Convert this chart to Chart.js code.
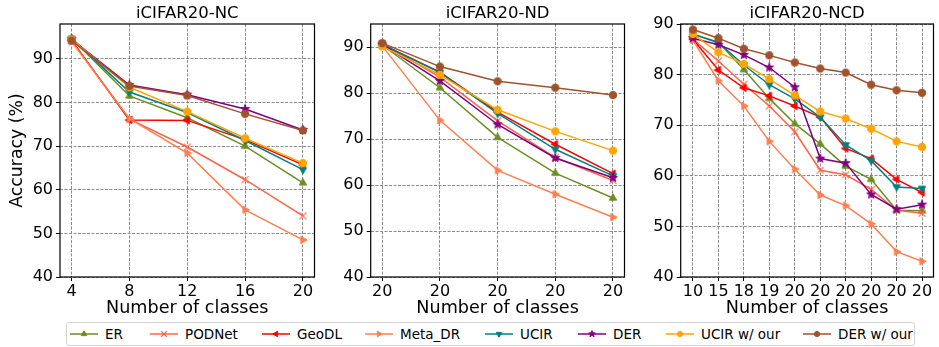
<!DOCTYPE html>
<html><head><meta charset="utf-8">
<script src="https://cdn.jsdelivr.net/npm/chart.js@4.4.0/dist/chart.umd.min.js"></script>
<style>
html,body{margin:0;padding:0;background:#fff}
body{width:939px;height:347px;overflow:hidden;position:relative;font-family:"DejaVu Sans",sans-serif}
canvas{position:absolute;top:0}
#legendBox{position:absolute;left:66px;top:322px;width:849px;height:24px;border:1px solid #d4d4d4;border-radius:3px;box-sizing:border-box}
.lt{position:absolute;font-size:13.5px;line-height:16px;top:326px;color:#000;white-space:nowrap}
</style></head>
<body>
<canvas id="c1" width="320" height="320" style="left:0px"></canvas>
<canvas id="c2" width="310" height="320" style="left:320px"></canvas>
<canvas id="c3" width="309" height="320" style="left:630px"></canvas>
<div id="legendBox"></div>
<div id="legend"></div>
<script>
// ---------- data ----------
const seriesNames  = ['ER','PODNet','GeoDL','Meta_DR','UCIR','DER','UCIR w/ our','DER w/ our'];
const seriesColors = ['#6b8e23','#ff6347','#ff0000','#ff7f50','#008080','#800080','#ffa500','#a0522d'];
const seriesMarkers= ['up','x','left','right','down','star','circle','circle'];

// iCIFAR20-NC
const ncTicks = [4, 8, 12, 16, 20];
const nc_ER      = [94.7, 81.5, 76.5, 70.0, 61.6];
const nc_PODNet  = [94.2, 76.2, 69.8, 62.3, 54.0];
const nc_GeoDL   = [94.3, 76.0, 75.9, 71.5, 65.7];
const nc_MetaDR  = [94.0, 76.3, 68.4, 55.4, 48.5];
const nc_UCIR    = [94.7, 82.4, 77.7, 71.3, 64.6];
const nc_DER     = [94.5, 84.0, 81.8, 78.5, 73.7];
const nc_UCIRour = [94.5, 83.5, 77.9, 71.8, 66.1];
const nc_DERour  = [94.2, 83.8, 81.6, 77.4, 73.6];

// iCIFAR20-ND
const ndTicks = ['20','20','20','20','20'];
const nd_ER      = [90.5, 81.2, 70.4, 62.6, 57.2];
const nd_PODNet  = [90.8, 83.5, 74.0, 66.0, 61.0];
const nd_GeoDL   = [90.6, 84.6, 75.9, 68.9, 62.5];
const nd_MetaDR  = [90.3, 74.1, 63.2, 58.0, 53.0];
const nd_UCIR    = [90.6, 84.5, 75.6, 67.8, 62.0];
const nd_DER     = [90.6, 82.7, 73.2, 65.9, 61.6];
const nd_UCIRour = [90.2, 84.0, 76.4, 71.7, 67.5];
const nd_DERour  = [90.9, 85.8, 82.6, 81.2, 79.6];

// iCIFAR20-NCD
const ncdTicks = ['10','15','18','19','20','20','20','20','20','20'];
const ncd_ER      = [88.0, 86.4, 81.0, 75.3, 70.3, 66.3, 61.9, 59.3, 53.2, 53.1];
const ncd_PODNet  = [87.0, 82.7, 78.1, 73.8, 68.7, 61.1, 60.2, 57.3, 53.2, 52.6];
const ncd_GeoDL   = [87.0, 80.9, 77.4, 75.8, 73.8, 71.6, 65.4, 63.4, 59.3, 56.7];
const ncd_MetaDR  = [86.8, 78.8, 73.8, 66.8, 61.3, 56.2, 54.1, 50.5, 45.0, 43.1];
const ncd_UCIR    = [88.0, 86.3, 81.9, 78.0, 75.2, 71.6, 66.1, 63.0, 57.8, 57.5];
const ncd_DER     = [87.2, 85.9, 83.9, 81.4, 77.5, 63.4, 62.5, 56.3, 53.4, 54.3];
const ncd_UCIRour = [88.0, 84.4, 82.1, 79.1, 75.9, 72.7, 71.3, 69.3, 66.8, 65.7];
const ncd_DERour  = [88.9, 87.2, 85.1, 83.8, 82.4, 81.2, 80.4, 78.0, 76.9, 76.4];

const yTicks = [40, 50, 60, 70, 80, 90];

// ---------- markers ----------
function markerPath(ctx, m, r){
  ctx.beginPath();
  if (m === 'circle') { ctx.arc(0,0,r,0,Math.PI*2); return; }
  if (m === 'star') {
    for (let i=0;i<10;i++){
      const a = -Math.PI/2 + i*Math.PI/5;
      const rr = i%2===0 ? r*1.25 : r*0.5;
      const px = Math.cos(a)*rr, py = Math.sin(a)*rr;
      i===0 ? ctx.moveTo(px,py) : ctx.lineTo(px,py);
    }
    ctx.closePath(); return;
  }
  const rot = {up:0, down:Math.PI, left:-Math.PI/2, right:Math.PI/2}[m] || 0;
  for (let i=0;i<3;i++){
    const a = rot - Math.PI/2 + i*2*Math.PI/3;
    const px = Math.cos(a)*r*1.15, py = Math.sin(a)*r*1.15;
    i===0 ? ctx.moveTo(px,py) : ctx.lineTo(px,py);
  }
  ctx.closePath();
}
function drawMarker(ctx, m, x, y, r, color){
  ctx.save(); ctx.translate(x,y);
  ctx.fillStyle = color; ctx.strokeStyle = color;
  if (m === 'x') {
    ctx.lineWidth = 1.2; ctx.beginPath();
    ctx.moveTo(-r,-r); ctx.lineTo(r,r); ctx.moveTo(-r,r); ctx.lineTo(r,-r); ctx.stroke();
  } else {
    markerPath(ctx, m, r); ctx.fill();
    ctx.lineWidth = 1; ctx.stroke();
  }
  ctx.restore();
}
function markerImage(m, color, r){
  const s = Math.ceil(r*3);
  const c = document.createElement('canvas'); c.width = s; c.height = s;
  drawMarker(c.getContext('2d'), m, s/2, s/2, r, color);
  return c;
}
const pointImgs = seriesMarkers.map((m,i)=>markerImage(m, seriesColors[i], m==='circle'?3.7:(m==='x'?3.4:3.7)));

// ---------- charts ----------
const panelPlugin = {
  id: 'panel',
  afterDatasetsDraw(chart, args, opts){
    const {ctx, chartArea:a} = chart;
    ctx.save();
    ctx.strokeStyle = '#000'; ctx.lineWidth = 1.2;
    ctx.strokeRect(a.left, a.top, a.right - a.left, a.bottom - a.top);
    ctx.fillStyle = '#000';
    ctx.font = '16.5px "DejaVu Sans"';
    ctx.textAlign = 'center'; ctx.textBaseline = 'middle';
    ctx.fillText(opts.text, (a.left + a.right)/2, 14);
    ctx.restore();
  }
};

function makeChart(id, title, xs, xLabelFn, xMin, xMax, yMax, series, yAxisW, padRight, showYTitle){
  const datasets = series.map((vals, i) => ({
    label: seriesNames[i],
    data: vals.map((v, j) => ({x: xs[j], y: v})),
    borderColor: seriesColors[i],
    backgroundColor: seriesColors[i],
    borderWidth: 1.5,
    pointStyle: pointImgs[i],
    pointRadius: 4,
    pointHoverRadius: 4,
    order: series.length - i,
    tension: 0
  }));
  return new Chart(document.getElementById(id), {
    type: 'line',
    data: { datasets },
    options: {
      responsive: false, animation: false, devicePixelRatio: 1,
      layout: { padding: { top: 24, right: padRight, bottom: 0, left: 0 } },
      plugins: { legend: { display: false }, tooltip: { enabled: false }, panel: { text: title } },
      scales: {
        x: {
          type: 'linear', min: xMin, max: xMax,
          afterBuildTicks: s => { s.ticks = xs.map(v => ({value: v})); },
          afterFit: s => { s.height = 43; },
          grid: { color: '#8c8c8c', lineWidth: 1, tickColor: '#000', tickLength: 4, tickWidth: 1 },
          border: { display: false, dash: [3, 1.5] },
          ticks: { color: '#000', font: { family: 'DejaVu Sans', size: 16 }, padding: 1, maxRotation: 0, autoSkip: false,
                   callback: (v) => xLabelFn(v) },
          title: { display: true, text: 'Number of classes', color: '#000',
                   font: { family: 'DejaVu Sans', size: 17.6 }, padding: { top: 0, bottom: 1.5 } }
        },
        y: {
          type: 'linear', min: 40, max: yMax,
          afterBuildTicks: s => { s.ticks = yTicks.map(v => ({value: v})); },
          afterFit: s => { s.width = yAxisW; },
          grid: { color: '#8c8c8c', lineWidth: 1, tickColor: '#000', tickLength: 4, tickWidth: 1 },
          border: { display: false, dash: [3, 1.5] },
          ticks: { color: '#000', font: { family: 'DejaVu Sans', size: 16 }, padding: 3 },
          title: { display: showYTitle, text: 'Accuracy (%)', color: '#000',
                   font: { family: 'DejaVu Sans', size: 17.3 }, padding: { top: 7, bottom: 0 } }
        }
      }
    },
    plugins: [panelPlugin]
  });
}

makeChart('c1', 'iCIFAR20-NC', ncTicks, v => String(v), 3.2, 20.8, 98.0,
  [nc_ER, nc_PODNet, nc_GeoDL, nc_MetaDR, nc_UCIR, nc_DER, nc_UCIRour, nc_DERour], 60, 2, true);
makeChart('c2', 'iCIFAR20-ND', ndTicks.map((_, i) => i), v => ndTicks[v], -0.2, 4.2, 95.07,
  [nd_ER, nd_PODNet, nd_GeoDL, nd_MetaDR, nd_UCIR, nd_DER, nd_UCIRour, nd_DERour], 50.7, 0, false);
makeChart('c3', 'iCIFAR20-NCD', ncdTicks.map((_, i) => i), v => ncdTicks[v], -0.48, 9.45, 90,
  [ncd_ER, ncd_PODNet, ncd_GeoDL, ncd_MetaDR, ncd_UCIR, ncd_DER, ncd_UCIRour, ncd_DERour], 50.7, 0, false);

// ---------- legend ----------
const legendX = [70, 150, 262, 365, 485, 578, 666, 803];
const legend = document.getElementById('legend');
seriesNames.forEach((name, i) => {
  const c = document.createElement('canvas');
  c.width = 28; c.height = 12;
  c.style.left = legendX[i] + 'px'; c.style.top = '328px';
  const ctx = c.getContext('2d');
  ctx.strokeStyle = seriesColors[i]; ctx.lineWidth = 1.5;
  ctx.beginPath(); ctx.moveTo(0, 6); ctx.lineTo(28, 6); ctx.stroke();
  drawMarker(ctx, seriesMarkers[i], 14, 6, seriesMarkers[i]==='circle'?2.6:2.8, seriesColors[i]);
  legend.appendChild(c);
  const t = document.createElement('div');
  t.className = 'lt'; t.textContent = name;
  t.style.left = (legendX[i] + 35) + 'px';
  legend.appendChild(t);
});
</script>
</body></html>
